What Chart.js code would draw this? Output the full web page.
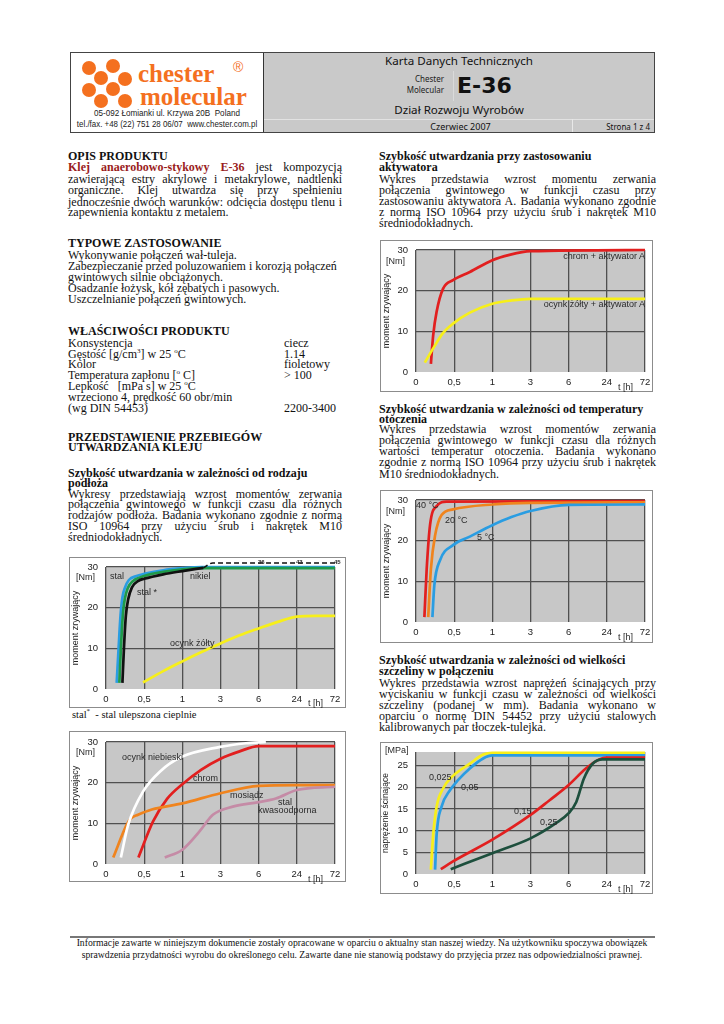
<!DOCTYPE html>
<html><head><meta charset="utf-8">
<script src="https://cdn.jsdelivr.net/npm/chart.js@4.4.0/dist/chart.umd.min.js"></script>
<style>
html,body{margin:0;padding:0;background:#fff;}
body{width:724px;height:1024px;position:relative;overflow:hidden;font-family:"Liberation Serif","Times New Roman",serif;color:#111;}
.ln{position:absolute;font-size:12px;line-height:12px;height:12px;white-space:nowrap;}
.j{text-align:justify;text-align-last:justify;}
.b{font-weight:bold;}
.red{color:#9a1c1c;font-weight:bold;}
sup{font-size:7px;line-height:0;vertical-align:5px;}
.hdr{position:absolute;left:70px;top:52px;width:585px;height:81px;border:1px solid #444;box-sizing:border-box;}
.logo{position:absolute;left:0;top:0;width:192px;height:79px;background:#fff;border-right:1px solid #333;}
.gray{position:absolute;left:193px;top:0;right:0;height:79px;background:#c9c9c9;}
.sans{font-family:"Noto Sans","DejaVu Sans",sans-serif;}
.t{position:absolute;white-space:nowrap;}
.dot{position:absolute;width:14px;height:14px;border-radius:50%;background:#f4701f;}
.frame{position:absolute;border:1px solid #8c8c8c;box-sizing:border-box;background:#fff;}
.cw{position:absolute;}
.cl{position:absolute;white-space:nowrap;font-family:"Liberation Sans",Arial,sans-serif;font-size:9px;line-height:9px;color:#2a2a2a;transform:translateY(-50%);z-index:3;}
</style>
</head><body>

<div class="hdr">
  <div class="logo">
    <div class="dot" style="left:11px;top:8px;"></div>
    <div class="dot" style="left:35px;top:6px;"></div>
    <div class="dot" style="left:23px;top:18px;"></div>
    <div class="dot" style="left:47px;top:19px;"></div>
    <div class="dot" style="left:11px;top:30px;"></div>
    <div class="dot" style="left:35px;top:29px;"></div>
    <div class="dot" style="left:23px;top:41px;"></div>
    <div class="dot" style="left:47px;top:41px;"></div>
    <div class="t" style="left:67px;top:8px;font-family:'Liberation Serif',serif;font-weight:bold;font-size:25px;line-height:25px;color:#f4701f;">chester</div>
    <div class="t" style="left:69px;top:31px;font-family:'Liberation Serif',serif;font-weight:bold;font-size:25px;line-height:25px;color:#f4701f;">molecular</div>
    <div class="t" style="left:162px;top:7px;font-family:'Liberation Sans',sans-serif;font-size:14px;line-height:14px;color:#f4701f;">®</div>
    <div class="t" style="left:-30px;width:252px;text-align:center;top:55px;font-family:'Liberation Sans',sans-serif;font-size:9px;line-height:10px;color:#222;transform:scaleX(0.9);">05-092 Łomianki ul. Krzywa 20B&nbsp; Poland</div>
    <div class="t" style="left:-30px;width:252px;text-align:center;top:66px;font-family:'Liberation Sans',sans-serif;font-size:9px;line-height:10px;color:#222;transform:scaleX(0.88);">tel./fax. +48 (22) 751 28 06/07&nbsp; www.chester.com.pl</div>
  </div>
  <div class="gray">
    <div class="t sans" style="left:0;right:0;text-align:center;top:1px;font-size:11.6px;line-height:14px;color:#111;">Karta Danych Technicznych</div>
    <div class="t sans" style="left:120px;width:60px;text-align:right;top:21px;font-size:8px;line-height:10px;color:#222;">Chester</div>
    <div class="t sans" style="left:120px;width:60px;text-align:right;top:32px;font-size:8px;line-height:10px;color:#222;">Molecular</div>
    <div style="position:absolute;left:189px;top:18px;width:1px;height:30px;background:#dadada;"></div>
    <div class="t" style="left:193px;top:21px;font-family:'DejaVu Sans',sans-serif;font-weight:bold;font-size:22px;line-height:24px;color:#111;">E-36</div>
    <div class="t sans" style="left:0;right:0;text-align:center;top:50px;font-size:11.6px;line-height:14px;color:#111;">Dział Rozwoju Wyrobów</div>
    <div style="position:absolute;left:0;right:0;top:66px;height:1px;background:#e2e2e2;"></div>
    <div style="position:absolute;left:308px;top:66px;width:1px;height:13px;background:#e8e8e8;"></div>
    <div class="t sans" style="left:0;width:393px;text-align:center;top:68px;font-size:9px;line-height:12px;color:#111;">Czerwiec 2007</div>
    <div class="t sans" style="right:4px;top:68px;font-size:8px;line-height:12px;color:#111;">Strona 1 z 4</div>
  </div>
</div>

<div id="txt"></div>

<div class="frame" style="left:69px;top:557px;width:277px;height:151px;"></div>
<div class="cw" id="c1"><canvas></canvas></div>
<div class="frame" style="left:69px;top:731px;width:277px;height:151px;"></div>
<div class="cw" id="c2"><canvas></canvas></div>
<div class="frame" style="left:380px;top:240px;width:273px;height:152px;"></div>
<div class="cw" id="c3"><canvas></canvas></div>
<div class="frame" style="left:380px;top:490px;width:273px;height:153px;"></div>
<div class="cw" id="c4"><canvas></canvas></div>
<div class="frame" style="left:380px;top:742px;width:273px;height:152px;"></div>
<div class="cw" id="c5"><canvas></canvas></div>

<div id="labels"></div>

<div style="position:absolute;left:70px;top:936px;width:585px;height:2px;background:#777;"></div>
<div class="t" style="left:0;width:724px;text-align:center;top:937px;font-size:9.7px;line-height:12px;">Informacje zawarte w niniejszym dokumencie zostały opracowane w oparciu o aktualny stan naszej wiedzy. Na użytkowniku spoczywa obowiązek</div>
<div class="t" style="left:0;width:724px;text-align:center;top:949px;font-size:9.7px;line-height:12px;">sprawdzenia przydatności wyrobu do określonego celu. Zawarte dane nie stanowią podstawy do przyjęcia przez nas odpowiedzialności prawnej.</div>

<script>
// ---------- DATA ----------
// time axis tick labels and their values in hours (axis is drawn with equal tick spacing)
const xTickLabels = ['0', '0,5', '1', '3', '6', '24', '72'];
const xTickHours = [0, 0.5, 1, 3, 6, 24, 72];

// Chart 1: substrate type  [hours, Nm]
const subStal = [[0.14,1.5],[0.165,10],[0.19,18],[0.215,22.5],[0.25,25],[0.3,26.8],[0.4,27.8],[0.5,28.3],[0.75,29.2],[1,29.7],[2,30],[72,30]];
const subNikiel = [[0.175,1.5],[0.195,10],[0.22,18],[0.245,22],[0.285,24.8],[0.35,26.5],[0.5,27.8],[0.75,28.8],[1,29.4],[2,29.7],[72,29.7]];
const subStalUlep = [[0.215,1.5],[0.235,10],[0.26,18],[0.29,22],[0.34,25],[0.425,26.6],[0.5,27.1],[0.75,28.2],[1,29.0],[2.1,29.8]];
const subStalUlepBeyond = [[2.1,29.8],[2.6,31],[72,31]];
const subOcynkZolty = [[0.485,1.6],[0.75,4.4],[1,6.8],[2,9.1],[3,11.2],[4.5,13.2],[6,14.9],[15,16.5],[24,17.8],[48,18],[72,18]];

// Chart 2: substrate type (cont.)  [hours, Nm]
const subOcynkNieb = [[0.195,1.6],[0.29,9.6],[0.485,17.8],[0.705,22.7],[0.985,26.3],[2.98,28.8],[5,29.7],[9.4,30]];
const subChrom = [[0.425,1.6],[0.615,10.4],[0.8,16],[1,19.6],[2,23.2],[3,25.9],[4.5,27.7],[6,29],[72,29]];
const subMosiadz = [[0.095,1.6],[0.27,9.6],[0.325,11.2],[0.42,12.1],[0.6,13.4],[1,14.9],[3,17.4],[6,19.2],[24,19.4],[72,19.4]];
const subStalKwas = [[0.77,1.6],[1,3.5],[1.9,8],[2.6,12.1],[3.96,14.1],[6,15.2],[14.1,16.1],[24,18.2],[72,19]];

// Chart 3: activator  [hours, Nm]
const actChrom = [[0.195,2],[0.225,9],[0.27,14.8],[0.355,20.5],[0.485,22.6],[0.705,24.6],[1,27.5],[1.9,28.8],[3,29.7],[72,30]];
const actOcynk = [[0.115,2.3],[0.225,5.8],[0.35,9.5],[0.485,11.9],[0.705,14.6],[1,16.8],[2,17.6],[3,18],[72,18]];

// Chart 4: ambient temperature  [hours, Nm]
const temp40 = [[0.11,1.2],[0.14,13],[0.185,24],[0.27,28.5],[0.4,29.6],[72,29.7]];
const temp20 = [[0.16,1.2],[0.195,13],[0.25,21.3],[0.335,26.3],[0.485,27.7],[1,28.9],[3,29.3],[72,29.4]];
const temp5 = [[0.215,1.2],[0.24,9],[0.315,15.2],[0.485,18.9],[0.705,21],[1,23.8],[2,25.8],[3,27.3],[6,28.8],[72,28.9]];

// Chart 5: gap size  [hours, MPa]
const gap0025 = [[0.195,1],[0.225,9],[0.27,15.5],[0.355,19.7],[0.485,22.6],[0.705,25.4],[0.88,27.5],[1,27.9],[72,27.9]];
const gap005 = [[0.25,1],[0.27,9],[0.335,15.5],[0.445,19.3],[0.55,21.6],[0.705,24.3],[0.88,26.6],[1,27.3],[72,27.3]];
const gap015 = [[0.325,1.1],[0.485,2.9],[1,7.9],[3,13.6],[4.5,17],[6,20.5],[14.1,24.3],[20.4,26.4],[24,26.8],[72,26.8]];
const gap025 = [[0.455,1.1],[1,4.8],[3,8.2],[5,11.7],[6,14],[9.6,16.6],[13.2,22],[17.3,25.4],[22,26.4],[24,26.4],[72,26.4]];

const nmTicks = [0, 10, 20, 30];
const mpaTicks = [0, 5, 10, 15, 20, 25];

// ---------- TEXT ----------
const LX = 68, LW = 274, RX = 379, RW = 277;
const lines = [
 [LX,156,0,'OPIS PRODUKTU','b'],
 [LX,167.5,LW,'<span class="red">Klej anaerobowo-stykowy E-36</span> jest kompozycją','j'],
 [LX,179,LW,'zawierającą estry akrylowe i metakrylowe, nadtlenki','j'],
 [LX,190.5,LW,'organiczne. Klej utwardza się przy spełnieniu','j'],
 [LX,202,LW,'jednocześnie dwóch warunków: odcięcia dostępu tlenu i','j'],
 [LX,212.5,0,'zapewnienia kontaktu z metalem.',''],
 [LX,243.5,0,'TYPOWE ZASTOSOWANIE','b'],
 [LX,255.5,0,'Wykonywanie połączeń wał-tuleja.',''],
 [LX,266.5,0,'Zabezpieczanie przed poluzowaniem i korozją połączeń',''],
 [LX,277,0,'gwintowych silnie obciążonych.',''],
 [LX,288,0,'Osadzanie łożysk, kół zębatych i pasowych.',''],
 [LX,299,0,'Uszczelnianie połączeń gwintowych.',''],
 [LX,331.5,0,'WŁAŚCIWOŚCI PRODUKTU','b'],
 [LX,343.5,0,'Konsystencja',''],[284,343.5,0,'ciecz',''],
 [LX,354,0,'Gęstość [g/cm<sup>3</sup>] w 25 <sup>o</sup>C',''],[284,354,0,'1.14',''],
 [LX,364.5,0,'Kolor',''],[284,364.5,0,'fioletowy',''],
 [LX,375.5,0,'Temperatura zapłonu [<sup>o</sup> C]',''],[284,375.5,0,'&gt; 100',''],
 [LX,386.5,0,'Lepkość&nbsp;&nbsp; [mPa s] w 25 <sup>o</sup>C',''],
 [LX,397.5,0,'wrzeciono 4, prędkość 60 obr/min',''],
 [LX,408,0,'(wg DIN 54453)',''],[284,408,0,'2200-3400',''],
 [LX,437.5,0,'PRZEDSTAWIENIE PRZEBIEGÓW','b'],
 [LX,447.5,0,'UTWARDZANIA KLEJU','b'],
 [LX,473.5,0,'Szybkość utwardzania w zależności od rodzaju','b'],
 [LX,483.5,0,'podłoża','b'],
 [LX,494,LW,'Wykresy przedstawiają wzrost momentów zerwania','j'],
 [LX,504.5,LW,'połączenia gwintowego w funkcji czasu dla różnych','j'],
 [LX,515.5,LW,'rodzajów podłoża. Badania wykonano zgodnie z normą','j'],
 [LX,526,LW,'ISO 10964 przy użyciu śrub i nakrętek M10','j'],
 [LX,537,0,'średniodokładnych.',''],

 [RX,156.5,0,'Szybkość utwardzania przy zastosowaniu','b'],
 [RX,167.5,0,'aktywatora','b'],
 [RX,179,RW,'Wykres przedstawia wzrost momentu zerwania','j'],
 [RX,190.5,RW,'połączenia gwintowego w funkcji czasu przy','j'],
 [RX,201.5,RW,'zastosowaniu aktywatora A. Badania wykonano zgodnie','j'],
 [RX,212.5,RW,'z normą ISO 10964 przy użyciu śrub i nakrętek M10','j'],
 [RX,223.5,0,'średniodokładnych.',''],

 [RX,409,0,'Szybkość utwardzania w zależności od temperatury','b'],
 [RX,419,0,'otoczenia','b'],
 [RX,429.5,RW,'Wykres przedstawia wzrost momentów zerwania','j'],
 [RX,440.5,RW,'połączenia gwintowego w funkcji czasu dla różnych','j'],
 [RX,451.5,RW,'wartości temperatur otoczenia. Badania wykonano','j'],
 [RX,462.5,RW,'zgodnie z normą ISO 10964 przy użyciu śrub i nakrętek','j'],
 [RX,474,0,'M10 średniodokładnych.',''],

 [RX,660,0,'Szybkość utwardzania w zależności od wielkości','b'],
 [RX,671,0,'szczeliny w połączeniu','b'],
 [RX,683,RW,'Wykres przedstawia wzrost naprężeń ścinających przy','j'],
 [RX,694,RW,'wyciskaniu w funkcji czasu w zależności od wielkości','j'],
 [RX,705,RW,'szczeliny (podanej w mm). Badania wykonano w','j'],
 [RX,716,RW,'oparciu o normę DIN 54452 przy użyciu stalowych','j'],
 [RX,727,0,'kalibrowanych par tłoczek-tulejka.','']
];
let html = '';
for (const [x,y,w,t,c] of lines) {
  html += '<div class="ln '+c+'" style="left:'+x+'px;top:'+(y-6.5)+'px;'+(w?'width:'+w+'px;':'')+'">'+t+'</div>';
}
html += '<div class="ln" style="left:72px;top:709px;font-size:10.5px;">stal<sup>*</sup>&nbsp; - stal ulepszona cieplnie</div>';
document.getElementById('txt').innerHTML = html;

// chart labels [x, yCenter, text, extra style]
const chartLabels = [
 [76,577,'[Nm]'],[110,576,'stal'],[137,592,'stal *'],[190,576,'nikiel'],[170,643,'ocynk żółty'],[308,703,'t [h]'],
 [258,562,'36','font-size:6px;font-weight:bold;'],[296,562,'43','font-size:6px;font-weight:bold;'],[334,562,'45','font-size:6px;font-weight:bold;'],
 [76,752,'[Nm]'],[122,757,'ocynk niebieski'],[193,778,'chrom'],[230,795,'mosiądz'],[278,802,'stal'],[258,810,'kwasoodporna'],[308,879,'t [h]'],
 [386,261,'[Nm]'],[618,387,'t [h]'],
 [386,511,'[Nm]'],[416,505,'40 °C'],[445,520,'20 °C'],[477,537,'5 °C'],[618,637,'t [h]'],
 [385,750,'[MPa]'],[429,777,'0,025'],[461,787,'0,05'],[514,811,'0,15'],[540,822,'0,25'],[618,889,'t [h]']
];
let lh = '';
for (const [x,y,t,s] of chartLabels) lh += '<div class="cl" style="left:'+x+'px;top:'+y+'px;'+(s||'')+'">'+t+'</div>';
lh += '<div class="cl" style="right:'+(724-645)+'px;top:256px;">chrom + aktywator A</div>';
lh += '<div class="cl" style="right:'+(724-645)+'px;top:304px;">ocynk żółty + aktywator A</div>';
document.getElementById('labels').innerHTML = lh;

// ---------- CHARTS ----------
function toAxis(h) {
  for (let k = 0; k < xTickHours.length - 1; k++) {
    if (h <= xTickHours[k+1]) return k + (h - xTickHours[k]) / (xTickHours[k+1] - xTickHours[k]);
  }
  return xTickHours.length - 1;
}
const pts = arr => arr.map(([h, v]) => ({x: toAxis(h), y: v}));

Chart.defaults.font.family = '"Liberation Sans", Arial, sans-serif';
const bgPlugin = {id:'bg', beforeDraw(chart){
  const {ctx, chartArea:a} = chart;
  ctx.save(); ctx.fillStyle = '#c7c7c7';
  ctx.fillRect(a.left, a.top, a.right - a.left, a.bottom - a.top); ctx.restore();
}};

function makeChart(id, f, p, yMax, yTicks, yTitle, titleSize, sets) {
  const wrap = document.getElementById(id);
  Object.assign(wrap.style, {left:f[0]+'px', top:f[1]+'px', width:f[2]+'px', height:f[3]+'px'});
  const cv = wrap.querySelector('canvas');
  cv.width = f[2]; cv.height = f[3];
  cv.style.width = f[2]+'px'; cv.style.height = f[3]+'px';
  const L = p[0]-f[0], T = p[1]-f[1], R = (f[0]+f[2]) - p[2], B = (f[1]+f[3]) - p[3];
  new Chart(cv, {
    type: 'line',
    data: {datasets: sets.map(s => ({
      data: pts(s.d), borderColor: s.c, borderWidth: s.w || 2.7, borderDash: s.dash || [],
      pointRadius: 0, fill: false, cubicInterpolationMode: 'monotone', clip: false
    }))},
    options: {
      responsive: false, animation: false, events: [], devicePixelRatio: 1,
      layout: {padding: {left: 0, top: T, right: R, bottom: 0}},
      plugins: {legend: {display: false}, tooltip: {enabled: false}},
      scales: {
        x: {
          type: 'linear', min: 0, max: xTickLabels.length - 1,
          afterBuildTicks: s => { s.ticks = xTickLabels.map((_, i) => ({value: i})); },
          ticks: {autoSkip: false, maxRotation: 0, padding: 5, color: '#222', font: {size: 9.5},
                  callback: v => xTickLabels[v]},
          grid: {color: '#505050', lineWidth: 1.3, drawTicks: false},
          border: {display: false},
          afterFit: s => { s.height = B; s.paddingLeft = 0; s.paddingRight = 0; }
        },
        y: {
          min: 0, max: yMax,
          afterBuildTicks: s => { s.ticks = yTicks.map(v => ({value: v})); },
          ticks: {padding: 8, color: '#222', font: {size: 9.5}},
          grid: {color: c => (c.tick && c.tick.value === 0) ? 'rgba(0,0,0,0)' : '#505050', lineWidth: 1.3, drawTicks: false},
          border: {display: false},
          title: {display: true, text: yTitle, color: '#222', font: {size: titleSize}, padding: {top: 1, bottom: 0}},
          afterFit: s => { s.width = L; s.paddingTop = 0; s.paddingBottom = 0; }
        }
      }
    },
    plugins: [bgPlugin]
  });
}

makeChart('c1', [69,557,277,151], [106,567,335,689], 30, nmTicks, 'moment zrywający', 9, [
  {d: subOcynkZolty, c: '#f7ef1a'},
  {d: subStalUlepBeyond, c: '#111', w: 1.6, dash: [5,3]},
  {d: subStalUlep, c: '#111'},
  {d: subNikiel, c: '#1f9a4a'},
  {d: subStal, c: '#2a9de2'}
]);
makeChart('c2', [69,731,277,151], [106,742,335,864], 30, nmTicks, 'moment zrywający', 9, [
  {d: subStalKwas, c: '#c58ba6'},
  {d: subOcynkNieb, c: '#ffffff'},
  {d: subMosiadz, c: '#f0841e'},
  {d: subChrom, c: '#e21f1f'}
]);
makeChart('c3', [380,240,273,152], [416,250,645,372], 30, nmTicks, 'moment zrywający', 9, [
  {d: actOcynk, c: '#f7ef1a'},
  {d: actChrom, c: '#e21f1f'}
]);
makeChart('c4', [380,490,273,153], [416,500,645,622], 30, nmTicks, 'moment zrywający', 9, [
  {d: temp5, c: '#2a9de2'},
  {d: temp20, c: '#f0841e'},
  {d: temp40, c: '#e21f1f'}
]);
makeChart('c5', [380,742,273,152], [416,752,645,874], 28.1, mpaTicks, 'naprężenie ścinające', 8.5, [
  {d: gap025, c: '#1d4f3d'},
  {d: gap015, c: '#e21f1f'},
  {d: gap005, c: '#2a9de2'},
  {d: gap0025, c: '#f7ef1a'}
]);
</script>
</body></html>
